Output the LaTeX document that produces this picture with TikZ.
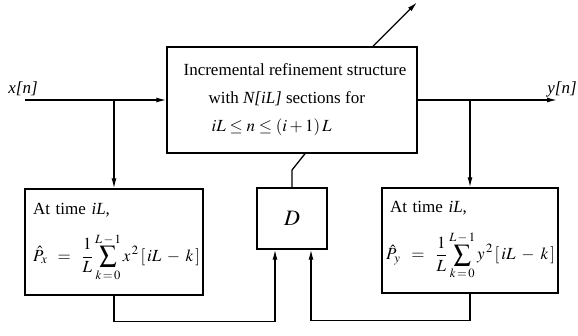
\documentclass[tikz,border=0pt]{standalone}
\usepackage{amsmath}
\usepackage{mathptmx}
\usepackage{fontspec}
\setmainfont{Liberation Serif}
\usepackage{tikz}
\usetikzlibrary{calc, positioning, arrows.meta}

\newcommand{\powerest}[1]{$\displaystyle \hat{P}_{#1} \;\;=\;\; \frac{1}{L}\sum_{k\,=\,0}^{L\,-\,1} #1^{\,2}\,[\,iL\;-\;k\,]$}

\begin{document}
\begin{tikzpicture}[x=1pt, y=-1pt,
    blockbox/.style={draw, line width=1.4pt, inner sep=6pt},
    sigline/.style={line width=1.3pt},
    sigarrow/.style={sigline, -{Latex[length=10pt, width=5pt]}},
    every node/.style={font=\fontsize{17}{28}\selectfont}]
  \useasboundingbox (0,0) rectangle (578,335);

  % blocks
  \node[blockbox, minimum width=250pt, minimum height=106pt, align=left] (irs) at (292,100) {%
    \hspace*{6pt}Incremental refinement structure\\
    \hspace*{31pt}with \textit{N[iL]} sections for\\
    \hspace*{34pt}$iL \le n \le (i+1)\,L$};
  \node[blockbox, minimum width=178pt, minimum height=106pt, text width=172pt, inner xsep=3pt, align=left] (powx) at (114,242) {%
    \hspace*{5pt}At time \textit{iL},\\[15pt]
    \hspace*{5pt}\powerest{x}};
  \node[blockbox, minimum width=70pt, minimum height=61pt] (delay) at (292,218.5) {\fontsize{22}{26}\selectfont$D$};
  \node[blockbox, minimum width=176pt, minimum height=105pt, text width=170pt, inner xsep=3pt, align=left] (powy) at (470,240.5) {%
    \hspace*{5pt}At time \textit{iL},\\[15pt]
    \hspace*{1pt}\powerest{y}};

  % signal labels
  \node (xlab) at (23,89) {\textit{x[n]}};
  \node (ylab) at (562,89) {\textit{y[n]}};

  % branch points and free ends
  \coordinate (xin) at (25,100);
  \coordinate (yout) at (557,100);
  \coordinate (xtap) at (114,100);
  \coordinate (ytap) at (470,100);
  \coordinate (knee) at (292,170);
  \coordinate (ctlin) at ($(irs.south)+(13,0)$);
  \coordinate (ctlout) at ($(irs.north)+(81,0)$);
  \coordinate (ctltip) at ($(ctlout)+(44,-44)$);

  % connectors
  \draw[sigarrow] (xin) -- (irs.west);
  \draw[sigarrow] (irs.east) -- (yout);
  \draw[sigarrow] (xtap) -- (powx.north);
  \draw[sigarrow] (ytap) -- (powy.north);
  \draw[sigarrow] (powx.south) -- ++(0,26) -| ($(delay.south)+(-17,0)$);
  \draw[sigarrow] (powy.south) -- ++(0,27) -| ($(delay.south)+(19,0)$);
  \draw[sigline] (delay.north) -- (knee) -- (ctlin);
  \draw[sigarrow] (ctlout) -- (ctltip);
\end{tikzpicture}
\end{document}
